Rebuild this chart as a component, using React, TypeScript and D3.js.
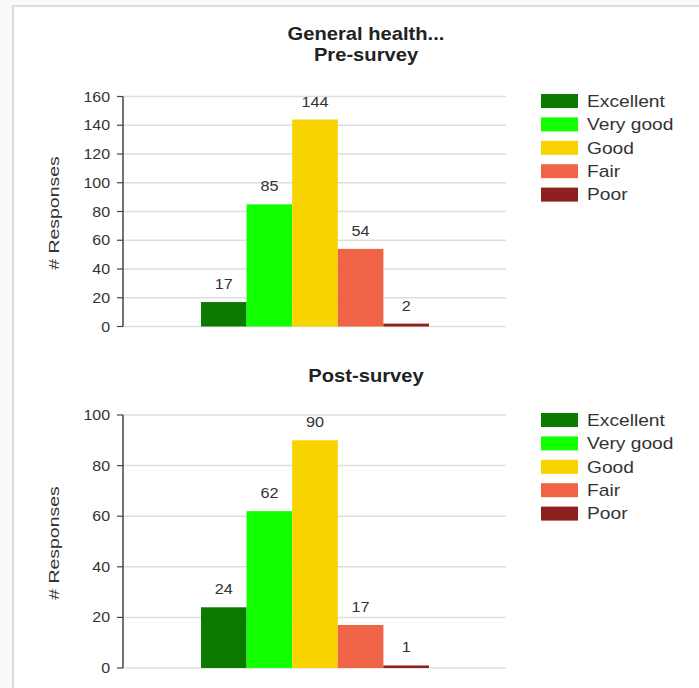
import React from "react";
import * as d3 from "d3";

const categories = ["Excellent", "Very good", "Good", "Fair", "Poor"];
const colors = ["#0a7b00", "#12ff00", "#f7d300", "#ef6447", "#8e2020"];
const preValues = [17, 85, 144, 54, 2];
const postValues = [24, 62, 90, 17, 1];
const preTicks = [0, 20, 40, 60, 80, 100, 120, 140, 160];
const postTicks = [0, 20, 40, 60, 80, 100];

const FONT = "Arial, 'Liberation Sans', sans-serif";

type PanelProps = {
  values: number[];
  ticks: number[];
  maxV: number;
  y0: number;
  y1: number;
  titleLines: { text: string; y: number }[];
  legendY: number;
  yLabelY: number;
};

function Panel({ values, ticks, maxV, y0, y1, titleLines, legendY, yLabelY }: PanelProps) {
  const x = d3.scaleBand<string>().domain(categories).range([201, 429]).padding(0);
  const y = d3.scaleLinear().domain([0, maxV]).range([y0, y1]);
  const axisX = 123;
  const gridEnd = 506;
  return (
    <g>
      {titleLines.map((t, i) => (
        <text
          key={i}
          transform={`translate(366,${t.y}) scale(1.12,1)`}
          textAnchor="middle"
          fontFamily={FONT}
          fontSize={18}
          fontWeight="bold"
          fill="#222"
        >
          {t.text}
        </text>
      ))}
      {ticks.map((t) => (
        <g key={t}>
          <line x1={axisX} x2={gridEnd} y1={y(t)} y2={y(t)} stroke="#dedede" strokeWidth={1.5} />
          <line x1={axisX - 6} x2={axisX} y1={y(t)} y2={y(t)} stroke="#444" strokeWidth={1.2} />
          <text
            transform={`translate(${axisX - 13},${y(t)}) scale(1.14,1)`}
            dy="0.36em"
            textAnchor="end"
            fontFamily={FONT}
            fontSize={14}
            fill="#333"
          >
            {t}
          </text>
        </g>
      ))}
      <line x1={axisX} x2={axisX} y1={y(maxV)} y2={y(0)} stroke="#444" strokeWidth={1.5} />
      {values.map((v, i) => {
        const bx = x(categories[i])!;
        const top = y(v);
        return (
          <g key={categories[i]}>
            <rect x={bx} y={top} width={x.bandwidth()} height={Math.max(y(0) - top, 0)} fill={colors[i]} />
            <text
              transform={`translate(${bx + x.bandwidth() / 2},${top - 13}) scale(1.12,1)`}
              textAnchor="middle"
              fontFamily={FONT}
              fontSize={14.5}
              fill="#333"
            >
              {v}
            </text>
          </g>
        );
      })}
      <text
        transform={`translate(59,${yLabelY}) rotate(-90) scale(1.3,1)`}
        textAnchor="middle"
        fontFamily={FONT}
        fontSize={15}
        fill="#333"
      >
        # Responses
      </text>
      {categories.map((c, i) => (
        <g key={c} transform={`translate(541,${legendY + i * 23.4})`}>
          <rect x={0} y={-7} width={37} height={14} fill={colors[i]} />
          <text
            transform="translate(46,0) scale(1.2,1)"
            dy="0.36em"
            fontFamily={FONT}
            fontSize={16}
            fill="#333"
          >
            {c}
          </text>
        </g>
      ))}
    </g>
  );
}

export default function App() {
  return (
    <svg
      width={699}
      height={688}
      style={{ position: "absolute", left: 0, top: 0, background: "#fafafa" }}
    >
      <rect x={13} y={6} width={700} height={700} fill="#ffffff" stroke="#dcdcdc" strokeWidth={2} />
      <Panel
        values={preValues}
        ticks={preTicks}
        maxV={160}
        y0={326.5}
        y1={96.5}
        titleLines={[
          { text: "General health...", y: 40 },
          { text: "Pre-survey", y: 61 },
        ]}
        legendY={101}
        yLabelY={213}
      />
      <Panel
        values={postValues}
        ticks={postTicks}
        maxV={100}
        y0={668}
        y1={415}
        titleLines={[{ text: "Post-survey", y: 382 }]}
        legendY={420}
        yLabelY={543}
      />
    </svg>
  );
}
